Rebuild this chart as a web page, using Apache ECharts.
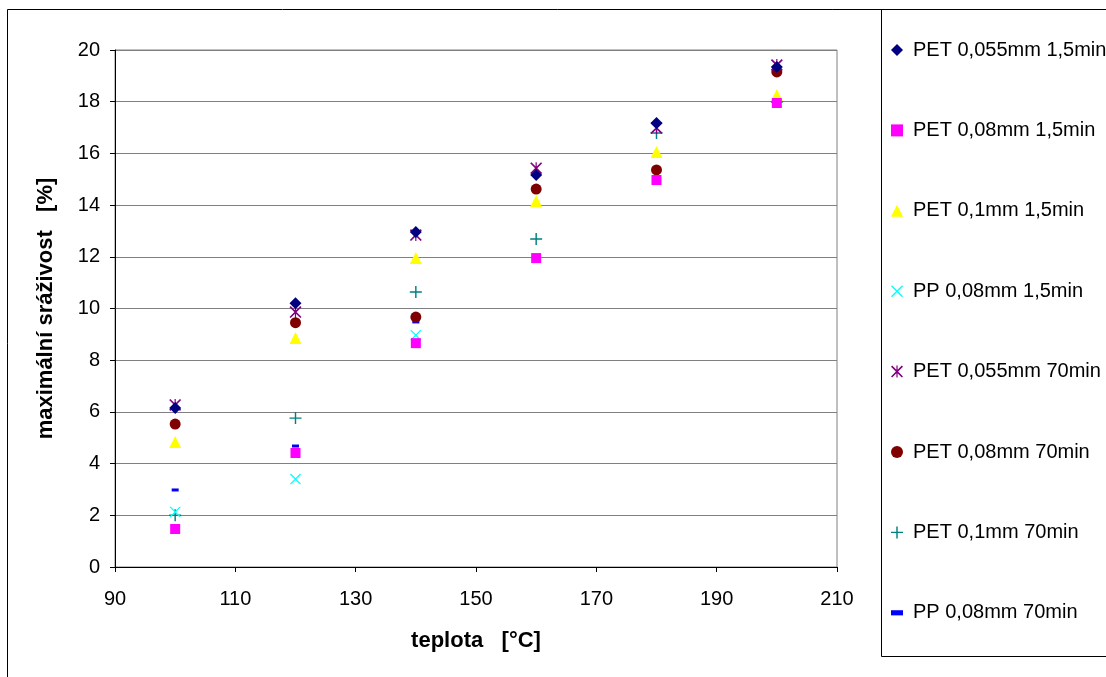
<!DOCTYPE html>
<html>
<head>
<meta charset="utf-8">
<script src="https://cdn.jsdelivr.net/npm/echarts@6/dist/echarts.min.js"></script>
<style>
html,body{margin:0;padding:0;background:#fff;}
#c{width:1106px;height:677px;}
</style>
</head>
<body>
<div id="c"></div>
<script>
const temps = [100, 120, 140, 160, 180, 200];
const ppTemps = [100, 120, 140];

const pet055_15 = [6.15, 10.2, 12.96, 15.16, 17.18, 19.34];
const pet08_15 = [1.47, 4.41, 8.66, 11.95, 14.97, 17.95];
const pet1_15 = [4.84, 8.86, 11.95, 14.16, 16.05, 18.26];
const pp08_15 = [2.13, 3.4, 8.97];
const pet055_70 = [6.27, 9.86, 12.84, 15.43, 16.98, 19.42];
const pet08_70 = [5.53, 9.45, 9.67, 14.62, 15.36, 19.15];
const pet1_70 = [2.0, 5.76, 10.64, 12.69, 16.79, 17.99];
const pp08_70 = [2.98, 4.68, 9.48];

const seriesNames = [
  'PET 0,055mm 1,5min', 'PET 0,08mm 1,5min', 'PET 0,1mm 1,5min', 'PP 0,08mm 1,5min',
  'PET 0,055mm 70min', 'PET 0,08mm 70min', 'PET 0,1mm 70min', 'PP 0,08mm 70min'
];
const yTicks = [0, 2, 4, 6, 8, 10, 12, 14, 16, 18, 20];
const xTicks = [90, 110, 130, 150, 170, 190, 210];

const X_PATH = 'path://M0,8L8,0L100,92L92,100ZM92,0L100,8L8,100L0,92Z';
const STAR_PATH = 'path://M0,10L10,0L100,90L90,100ZM90,0L100,10L10,100L0,90ZM45,0H55V100H45Z';
const PLUS_PATH = 'path://M44,0H56V44H100V56H56V100H44V56H0V44H44Z';
const DASH_PATH = 'path://M0,0H70V30H0Z';

const styles = [
  {symbol: 'diamond', size: 12, color: '#000080', icon: 'diamond'},
  {symbol: 'rect', size: 10, color: '#FF00FF', icon: 'path://M10,10H90V90H10Z'},
  {symbol: 'triangle', size: 12, color: '#FFFF00', icon: 'triangle'},
  {symbol: X_PATH, size: 11, color: '#00FFFF', icon: X_PATH},
  {symbol: STAR_PATH, size: 12, color: '#800080', icon: STAR_PATH},
  {symbol: 'circle', size: 11, color: '#800000', icon: 'circle'},
  {symbol: PLUS_PATH, size: 12, color: '#008080', icon: PLUS_PATH},
  {symbol: 'rect', size: [7, 3], color: '#0000FF', icon: DASH_PATH}
];
const dataSets = [pet055_15, pet08_15, pet1_15, pp08_15, pet055_70, pet08_70, pet1_70, pp08_70];
const xSets = [temps, temps, temps, ppTemps, temps, temps, temps, ppTemps];

const series = seriesNames.map((name, i) => ({
  name: name,
  type: 'scatter',
  symbol: styles[i].symbol,
  symbolSize: styles[i].size,
  symbolKeepAspect: true,
  itemStyle: {color: styles[i].color, opacity: 1},
  emphasis: {disabled: true},
  data: dataSets[i].map((v, j) => [xSets[i][j], v]),
  z: 10 - i
}));

const font = 'Liberation Sans, Arial, sans-serif';
const chart = echarts.init(document.getElementById('c'), null, {renderer: 'canvas'});
chart.setOption({
  animation: false,
  backgroundColor: '#fff',
  grid: {left: 115, right: 269, top: 50, bottom: 110, show: true, borderColor: '#808080', borderWidth: 1, backgroundColor: 'transparent'},
  xAxis: {
    type: 'value', min: xTicks[0], max: xTicks[xTicks.length - 1], interval: 20,
    name: 'teplota   [°C]', nameLocation: 'middle', nameGap: 63,
    nameTextStyle: {fontFamily: font, fontSize: 22, fontWeight: 'bold', color: '#000'},
    axisLine: {show: true, onZero: false, lineStyle: {color: '#000', width: 1}},
    axisTick: {show: true, length: 5, lineStyle: {color: '#000'}},
    axisLabel: {fontFamily: font, fontSize: 20, color: '#000', margin: 22},
    splitLine: {show: false}
  },
  yAxis: {
    type: 'value', min: yTicks[0], max: yTicks[yTicks.length - 1], interval: 2,
    name: 'maximální sráživost   [%]', nameLocation: 'middle', nameGap: 58,
    nameTextStyle: {fontFamily: font, fontSize: 22, fontWeight: 'bold', color: '#000'},
    axisLine: {show: true, lineStyle: {color: '#000', width: 1}},
    axisTick: {show: true, length: 5, lineStyle: {color: '#000'}},
    axisLabel: {fontFamily: font, fontSize: 20, color: '#000', margin: 15},
    splitLine: {show: true, lineStyle: {color: '#808080', width: 1}}
  },
  legend: {
    orient: 'vertical', left: 886, top: 35,
    itemGap: 60.4, itemWidth: 12, itemHeight: 12,
    textStyle: {fontFamily: font, fontSize: 20, color: '#000', padding: [0, 0, 0, 5]},
    data: seriesNames.map((n, i) => ({name: n, icon: styles[i].icon, itemStyle: {color: styles[i].color}})),
    selectedMode: false
  },
  graphic: [
    {type: 'rect', shape: {x: 7.5, y: 9.5, width: 1120, height: 700}, style: {fill: 'none', stroke: '#000', lineWidth: 1}, z: 100},
    {type: 'rect', shape: {x: 881.5, y: 9.5, width: 240, height: 647}, style: {fill: '#fff', stroke: '#000', lineWidth: 1}, z: -1}
  ],
  series: series
});
</script>
</body>
</html>
